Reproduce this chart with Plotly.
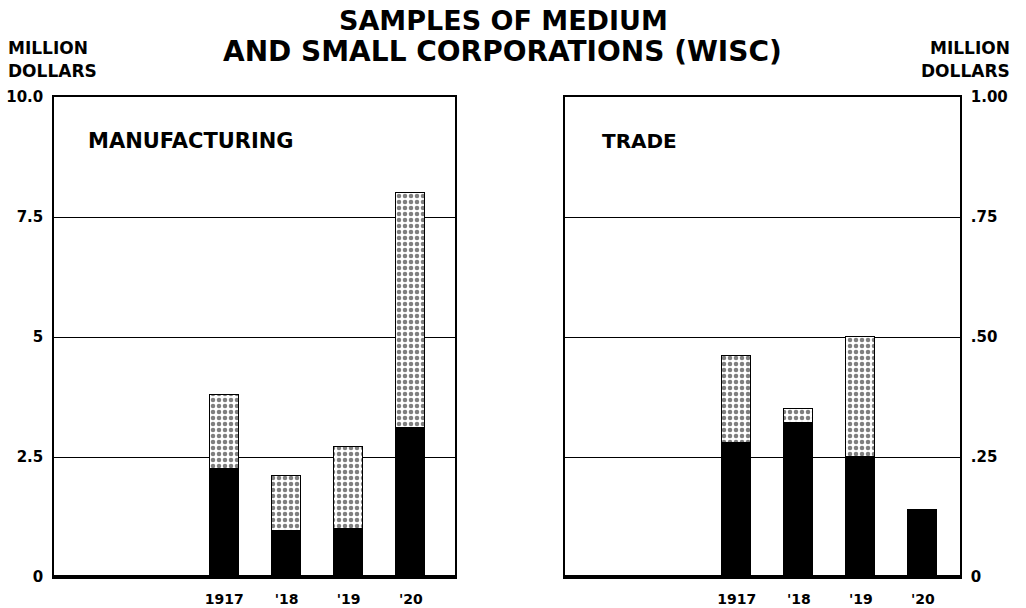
import plotly.graph_objects as go

# ---- data ----
years = ["1917", "'18", "'19", "'20"]
mfg_black = [2.25, 0.95, 1.0, 3.1]
mfg_total = [3.8, 2.1, 2.7, 8.0]
trade_black = [0.28, 0.32, 0.25, 0.14]
trade_total = [0.46, 0.35, 0.50, 0.14]

left_tickvals = [0, 2.5, 5, 7.5, 10]
left_ticktext = ["0", "2.5", "5", "7.5", "10.0"]
right_tickvals = [0, 0.25, 0.5, 0.75, 1.0]
right_ticktext = ["0", ".25", ".50", ".75", "1.00"]

FONT = "DejaVu Sans"

mfg_upper = [t - b for t, b in zip(mfg_total, mfg_black)]
trade_upper = [t - b for t, b in zip(trade_total, trade_black)]

fig = go.Figure()

bar_w = 0.47
stipple = dict(shape=".", fgcolor="black", bgcolor="white", size=6, solidity=0.45)

fig.add_trace(go.Bar(x=years, y=mfg_black, width=bar_w, xaxis="x", yaxis="y",
                     marker=dict(color="black", line=dict(color="black", width=1.5))))
fig.add_trace(go.Bar(x=years, y=mfg_upper, width=bar_w, xaxis="x", yaxis="y",
                     marker=dict(color="white", pattern=stipple,
                                 line=dict(color="black", width=1.5))))
fig.add_trace(go.Bar(x=years, y=trade_black, width=bar_w, xaxis="x2", yaxis="y2",
                     marker=dict(color="black", line=dict(color="black", width=1.5))))
fig.add_trace(go.Bar(x=years, y=trade_upper, width=bar_w, xaxis="x2", yaxis="y2",
                     marker=dict(color="white", pattern=stipple,
                                 line=dict(color="black", width=1.5))))

W, H = 1026, 608
y_dom = [1 - 577 / H, 1 - 97 / H]

xcommon = dict(type="category", categoryorder="array", categoryarray=years,
               showline=True, mirror=True, linecolor="black", linewidth=1.5,
               showgrid=False, zeroline=False, ticks="outside", ticklen=8,
               tickcolor="rgba(0,0,0,0)",
               tickfont=dict(family=FONT, size=14, color="black", weight="bold"),
               automargin=False, fixedrange=True)
ycommon = dict(showline=True, mirror=True, linecolor="black", linewidth=1.5,
               showgrid=True, gridcolor="black", gridwidth=1.3,
               zeroline=True, zerolinecolor="black", zerolinewidth=3.5,
               ticks="outside", ticklen=6, tickcolor="rgba(0,0,0,0)",
               tickfont=dict(family=FONT, size=15, color="black", weight="bold"),
               automargin=False, fixedrange=True, domain=y_dom)

fig.update_layout(
    width=W, height=H,
    margin=dict(l=0, r=0, t=0, b=0),
    paper_bgcolor="white", plot_bgcolor="white",
    barmode="stack", bargap=0, showlegend=False,
    xaxis=dict(domain=[54 / W, 455 / W], range=[-2.74, 3.71], anchor="y", **xcommon),
    yaxis=dict(range=[0, 10], tickvals=left_tickvals, ticktext=left_ticktext,
               anchor="x", side="left", **ycommon),
    xaxis2=dict(domain=[565 / W, 960 / W], range=[-2.77, 3.6], anchor="y2", **xcommon),
    yaxis2=dict(range=[0, 1], tickvals=right_tickvals, ticktext=right_ticktext,
                anchor="x2", side="right", **ycommon),
)

def txt(x, y, s, size, xanchor="center"):
    fig.add_annotation(x=x / W, y=1 - y / H, xref="paper", yref="paper",
                       text=s, showarrow=False, xanchor=xanchor, yanchor="middle",
                       font=dict(family=FONT, size=size, color="black", weight="bold"))

txt(503, 20, "SAMPLES OF MEDIUM", 27)
txt(502, 52, "AND SMALL CORPORATIONS (WISC)", 28)
txt(6, 48, "MILLION", 17, "left")
txt(6, 71, "DOLLARS", 17, "left")
txt(1012, 48, "MILLION", 17, "right")
txt(1012, 71, "DOLLARS", 17, "right")
txt(86, 141, "MANUFACTURING", 21, "left")
txt(600, 141, "TRADE", 20, "left")

fig.write_html("out.html", config={"displayModeBar": False},
               post_script="document.body.style.margin='0';document.body.style.overflow='hidden';")
